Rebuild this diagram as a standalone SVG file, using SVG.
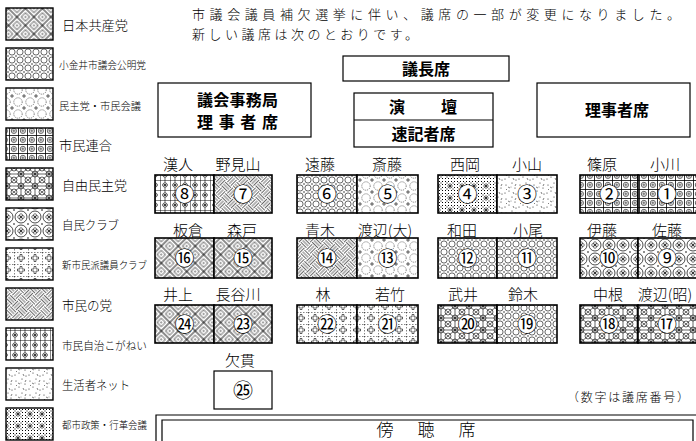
<svg xmlns="http://www.w3.org/2000/svg" width="696" height="441" viewBox="0 0 696 441">
<style>
text{font-family:"Noto Sans CJK JP","Noto Sans CJK SC",sans-serif;fill:#000}
.m{font-weight:300}
.g{font-weight:700;font-size:16px}
.nm{font-size:15px;font-weight:300;text-anchor:middle}
.num{font-size:20px;text-anchor:middle}
.lg{font-weight:300}
.sw{stroke:#000;stroke-width:1.4}
.box{fill:#fff;stroke:#000;stroke-width:1.2}
.seat{stroke:#000;stroke-width:1.6}
.wc{fill:#fff}
</style>
<defs>
<pattern id="p1" width="12" height="12" patternUnits="userSpaceOnUse" patternTransform="rotate(45)">
<rect width="12" height="12" fill="#fff" stroke="#000" stroke-width="0.9"/>
<rect x="3" y="3" width="6" height="6" fill="none" stroke="#000" stroke-width="0.55"/>
<rect x="5.4" y="5.4" width="1.2" height="1.2" fill="#000"/>
</pattern>
<pattern id="p2" width="8" height="8" patternUnits="userSpaceOnUse">
<rect width="8" height="8" fill="#fff"/>
<circle cx="4" cy="4" r="3.1" fill="none" stroke="#000" stroke-width="0.6"/>
<circle cx="0" cy="0" r="0.7"/><circle cx="8" cy="0" r="0.7"/><circle cx="0" cy="8" r="0.7"/><circle cx="8" cy="8" r="0.7"/>
</pattern>
<pattern id="p3" width="12" height="12" patternUnits="userSpaceOnUse">
<rect width="12" height="12" fill="#fff"/>
<circle cx="6" cy="6" r="4.2" fill="none" stroke="#000" stroke-width="0.5" stroke-dasharray="1.2 1"/>
<path d="M0 0H2M0 0V2M10 0H12M12 0V2M0 12H2M0 10V12M10 12H12M12 10V12" stroke="#000" stroke-width="0.6"/>
</pattern>
<pattern id="p4" width="9" height="9" patternUnits="userSpaceOnUse">
<rect width="9" height="9" fill="#fff"/>
<path d="M0 0.4H9M0.4 0V9" stroke="#000" stroke-width="0.9"/>
<circle cx="4.9" cy="4.9" r="2.6" fill="none" stroke="#000" stroke-width="0.6"/>
<path d="M4.9 3.2V6.6M3.2 4.9H6.6" stroke="#000" stroke-width="0.5"/>
</pattern>
<pattern id="p5" width="14" height="12" patternUnits="userSpaceOnUse">
<rect width="14" height="12" fill="#fff"/>
<path d="M0 0L14 12M14 0L0 12M7 0V12M0 6H14" stroke="#000" stroke-width="0.6"/>
<circle cx="7" cy="6" r="3" fill="none" stroke="#000" stroke-width="0.6"/>
<circle cx="0" cy="0" r="3" fill="none" stroke="#000" stroke-width="0.6"/><circle cx="14" cy="0" r="3" fill="none" stroke="#000" stroke-width="0.6"/><circle cx="0" cy="12" r="3" fill="none" stroke="#000" stroke-width="0.6"/><circle cx="14" cy="12" r="3" fill="none" stroke="#000" stroke-width="0.6"/>
</pattern>
<pattern id="p6" width="14" height="14" patternUnits="userSpaceOnUse">
<rect width="14" height="14" fill="#fff"/>
<circle cx="7" cy="7" r="6" fill="none" stroke="#000" stroke-width="0.7"/>
<g fill="none" stroke="#000" stroke-width="0.5"><circle cx="7" cy="5.2" r="1.5"/><circle cx="8.8" cy="7" r="1.5"/><circle cx="7" cy="8.8" r="1.5"/><circle cx="5.2" cy="7" r="1.5"/></g>
<circle cx="0" cy="0" r="0.8"/><circle cx="14" cy="0" r="0.8"/><circle cx="0" cy="14" r="0.8"/><circle cx="14" cy="14" r="0.8"/>
</pattern>
<pattern id="p7" width="14" height="12" patternUnits="userSpaceOnUse">
<rect width="14" height="12" fill="#fff"/>
<path d="M0 0.3H14M0.3 0V12" stroke="#000" stroke-width="0.6" stroke-dasharray="1.5 1.5"/>
<path d="M6 2.5h2v2.5h2.5v2h-2.5v2.5h-2v-2.5h-2.5v-2h2.5z" fill="none" stroke="#000" stroke-width="0.6"/>
</pattern>
<pattern id="p8" width="16" height="16" patternUnits="userSpaceOnUse" patternTransform="rotate(45)">
<rect width="16" height="16" fill="#fff"/>
<path d="M0 1.5H8M0 4H8M0 6.5H8M9.5 0V8M12 0V8M14.5 0V8M1.5 8V16M4 8V16M6.5 8V16M8 9.5H16M8 12H16M8 14.5H16" stroke="#000" stroke-width="0.6"/>
</pattern>
<pattern id="p9" width="10" height="10" patternUnits="userSpaceOnUse">
<rect width="10" height="10" fill="#fff"/>
<path d="M0 0.3H10M0.3 0V10M5 0V2M5 8V10" stroke="#000" stroke-width="0.6"/>
<g fill="none" stroke="#000" stroke-width="0.5"><circle cx="5" cy="3.7" r="1.3"/><circle cx="6.3" cy="5" r="1.3"/><circle cx="5" cy="6.3" r="1.3"/><circle cx="3.7" cy="5" r="1.3"/></g>
</pattern>
<pattern id="p10" width="14" height="14" patternUnits="userSpaceOnUse">
<rect width="14" height="14" fill="#fff"/>
<g fill="#000"><circle cx="2" cy="3" r="0.5"/><circle cx="8" cy="1" r="0.5"/><circle cx="11" cy="6" r="0.5"/><circle cx="5" cy="9" r="0.5"/><circle cx="12" cy="12" r="0.5"/><circle cx="1" cy="11" r="0.5"/><circle cx="7" cy="5" r="0.4"/></g>
<path d="M4 5l2 1M9 10l1 2M12 2l-1 2M2 7l1 1" stroke="#000" stroke-width="0.5"/>
</pattern>
<pattern id="p11" width="12" height="12" patternUnits="userSpaceOnUse">
<rect width="12" height="12" fill="#fff"/>
<path d="M1 1h1v1h-1zM4 1h1v1h-1zM7 1h1v1h-1zM10 1h1v1h-1zM1 4h1v1h-1zM10 4h1v1h-1zM1 7h1v1h-1zM10 7h1v1h-1zM1 10h1v1h-1zM4 10h1v1h-1zM7 10h1v1h-1zM10 10h1v1h-1zM2.5 2.5h1v1h-1zM8.5 2.5h1v1h-1zM2.5 8.5h1v1h-1zM8.5 8.5h1v1h-1z" fill="#000"/>
<path d="M6 3V9M3 6H9M4 4L8 8M8 4L4 8" stroke="#000" stroke-width="0.6"/>
</pattern>
</defs>
<rect width="696" height="441" fill="#fff"/>

<g id="legend">
<g id="lg1"><rect class="sw" x="6" y="8" width="47" height="32" fill="url(#p1)"/><text class="lg" x="62" y="30" font-size="13" textLength="66" lengthAdjust="spacingAndGlyphs">日本共産党</text></g>
<g id="lg2"><rect class="sw" x="6" y="48" width="47" height="32" fill="url(#p2)"/><text class="lg" x="59" y="69" font-size="10" textLength="87" lengthAdjust="spacingAndGlyphs">小金井市議会公明党</text></g>
<g id="lg3"><rect class="sw" x="6" y="88" width="47" height="32" fill="url(#p3)"/><text class="lg" x="59" y="110" font-size="10.5" textLength="82" lengthAdjust="spacingAndGlyphs">民主党・市民会議</text></g>
<g id="lg4"><rect class="sw" x="6" y="128" width="47" height="32" fill="url(#p4)"/><text class="lg" x="59" y="150" font-size="13" textLength="53" lengthAdjust="spacingAndGlyphs">市民連合</text></g>
<g id="lg5"><rect class="sw" x="6" y="168" width="47" height="32" fill="url(#p5)"/><text class="lg" x="62" y="190" font-size="13" textLength="65" lengthAdjust="spacingAndGlyphs">自由民主党</text></g>
<g id="lg6"><rect class="sw" x="6" y="208" width="47" height="32" fill="url(#p6)"/><text class="lg" x="62" y="230" font-size="12.5" textLength="57" lengthAdjust="spacingAndGlyphs">自民クラブ</text></g>
<g id="lg7"><rect class="sw" x="6" y="248" width="47" height="32" fill="url(#p7)"/><text class="lg" x="62" y="269" font-size="10" textLength="85" lengthAdjust="spacingAndGlyphs">新市民派議員クラブ</text></g>
<g id="lg8"><rect class="sw" x="6" y="288" width="47" height="32" fill="url(#p8)"/><text class="lg" x="62" y="310" font-size="13" textLength="50" lengthAdjust="spacingAndGlyphs">市民の党</text></g>
<g id="lg9"><rect class="sw" x="6" y="328" width="47" height="32" fill="url(#p9)"/><text class="lg" x="62" y="350" font-size="11" textLength="85" lengthAdjust="spacingAndGlyphs">市民自治こがねい</text></g>
<g id="lg10"><rect class="sw" x="6" y="368" width="47" height="32" fill="url(#p10)"/><text class="lg" x="62" y="390" font-size="12" textLength="68" lengthAdjust="spacingAndGlyphs">生活者ネット</text></g>
<g id="lg11"><rect class="sw" x="6" y="408" width="47" height="32" fill="url(#p11)"/><text class="lg" x="62" y="429" font-size="10" textLength="85" lengthAdjust="spacingAndGlyphs">都市政策・行革会議</text></g>
</g>

<g id="notice">
<text class="m" x="192" y="19" font-size="13" textLength="488" lengthAdjust="spacing">市議会議員補欠選挙に伴い、議席の一部が変更になりました。</text>
<text class="m" x="192" y="39" font-size="13" textLength="226" lengthAdjust="spacing">新しい議席は次のとおりです。</text>
</g>

<g id="gichoseki"><rect class="box" x="343" y="56" width="166" height="25"/><text class="g" x="426" y="74.5" text-anchor="middle">議長席</text></g>
<g id="jimukyoku"><rect class="box" x="158" y="83" width="153" height="54"/><text class="g" x="197" y="106" textLength="81" lengthAdjust="spacing">議会事務局</text><text class="g" x="197" y="128" textLength="81" lengthAdjust="spacing">理事者席</text></g>
<g id="endan"><rect class="box" x="354" y="93" width="139" height="54"/><line x1="354" y1="120" x2="493" y2="120" stroke="#000" stroke-width="1.2"/><text class="g" x="389" y="112.5" textLength="68" lengthAdjust="spacing">演壇</text><text class="g" x="423.5" y="139.5" text-anchor="middle">速記者席</text></g>
<g id="rijisha"><rect class="box" x="537" y="83" width="153" height="54"/><text class="g" x="617" y="116" text-anchor="middle">理事者席</text></g>

<g id="seats">
<g id="s8-7">
<rect class="seat" x="155" y="175" width="59" height="38" fill="url(#p9)"/><rect class="seat" x="214" y="175" width="58" height="38" fill="url(#p8)"/>
<circle class="wc" cx="184.5" cy="194" r="9"/><text class="num" x="184.5" y="201.5">⑧</text><circle class="wc" cx="243" cy="194" r="9"/><text class="num" x="243" y="201.5">⑦</text>
<text class="nm" x="178" y="170">漢人</text><text class="nm" x="238" y="170">野見山</text>
</g>
<g id="s6-5">
<rect class="seat" x="297" y="175" width="60" height="38" fill="url(#p2)"/><rect class="seat" x="357" y="175" width="61" height="38" fill="url(#p3)"/>
<circle class="wc" cx="327" cy="194" r="9"/><text class="num" x="327" y="201.5">⑥</text><circle class="wc" cx="387.5" cy="194" r="9"/><text class="num" x="387.5" y="201.5">⑤</text>
<text class="nm" x="320" y="170">遠藤</text><text class="nm" x="387" y="170">斎藤</text>
</g>
<g id="s4-3">
<rect class="seat" x="438" y="175" width="59" height="38" fill="url(#p11)"/><rect class="seat" x="497" y="175" width="60" height="38" fill="url(#p10)"/>
<circle class="wc" cx="467.5" cy="194" r="9"/><text class="num" x="467.5" y="201.5">④</text><circle class="wc" cx="527" cy="194" r="9"/><text class="num" x="527" y="201.5">③</text>
<text class="nm" x="465" y="170">西岡</text><text class="nm" x="527" y="170">小山</text>
</g>
<g id="s2-1">
<rect class="seat" x="580" y="175" width="58" height="38" fill="url(#p4)"/><rect class="seat" x="638" y="175" width="59" height="38" fill="url(#p4)"/>
<circle class="wc" cx="609" cy="194" r="9"/><text class="num" x="609" y="201.5">②</text><circle class="wc" cx="667" cy="194" r="9"/><text class="num" x="667" y="201.5">①</text>
<text class="nm" x="602" y="170">篠原</text><text class="nm" x="665" y="170">小川</text>
</g>

<g id="s16-15">
<rect class="seat" x="155" y="238" width="59" height="40" fill="url(#p1)"/><rect class="seat" x="214" y="238" width="58" height="40" fill="url(#p1)"/>
<circle class="wc" cx="184.5" cy="258" r="9"/><text class="num" x="184.5" y="265.5">⑯</text><circle class="wc" cx="243" cy="258" r="9"/><text class="num" x="243" y="265.5">⑮</text>
<text class="nm" x="188" y="236">板倉</text><text class="nm" x="242" y="236">森戸</text>
</g>
<g id="s14-13">
<rect class="seat" x="297" y="238" width="60" height="40" fill="url(#p8)"/><rect class="seat" x="357" y="238" width="61" height="40" fill="url(#p3)"/>
<circle class="wc" cx="327" cy="258" r="9"/><text class="num" x="327" y="265.5">⑭</text><circle class="wc" cx="387.5" cy="258" r="9"/><text class="num" x="387.5" y="265.5">⑬</text>
<text class="nm" x="320" y="236">青木</text><text class="nm" x="385" y="236">渡辺(大)</text>
</g>
<g id="s12-11">
<rect class="seat" x="438" y="238" width="59" height="40" fill="url(#p2)"/><rect class="seat" x="497" y="238" width="60" height="40" fill="url(#p2)"/>
<circle class="wc" cx="467.5" cy="258" r="9"/><text class="num" x="467.5" y="265.5">⑫</text><circle class="wc" cx="527" cy="258" r="9"/><text class="num" x="527" y="265.5">⑪</text>
<text class="nm" x="462" y="236">和田</text><text class="nm" x="528" y="236">小尾</text>
</g>
<g id="s10-9">
<rect class="seat" x="580" y="238" width="58" height="40" fill="url(#p6)"/><rect class="seat" x="638" y="238" width="59" height="40" fill="url(#p6)"/>
<circle class="wc" cx="609" cy="258" r="9"/><text class="num" x="609" y="265.5">⑩</text><circle class="wc" cx="667" cy="258" r="9"/><text class="num" x="667" y="265.5">⑨</text>
<text class="nm" x="602" y="236">伊藤</text><text class="nm" x="667" y="236">佐藤</text>
</g>

<g id="s24-23">
<rect class="seat" x="155" y="305" width="59" height="38" fill="url(#p1)"/><rect class="seat" x="214" y="305" width="58" height="38" fill="url(#p1)"/>
<circle class="wc" cx="184.5" cy="324" r="9"/><text class="num" x="184.5" y="331.5">㉔</text><circle class="wc" cx="243" cy="324" r="9"/><text class="num" x="243" y="331.5">㉓</text>
<text class="nm" x="178" y="300">井上</text><text class="nm" x="238" y="300">長谷川</text>
</g>
<g id="s22-21">
<rect class="seat" x="297" y="305" width="60" height="38" fill="url(#p7)"/><rect class="seat" x="357" y="305" width="61" height="38" fill="url(#p7)"/>
<circle class="wc" cx="327" cy="324" r="9"/><text class="num" x="327" y="331.5">㉒</text><circle class="wc" cx="387.5" cy="324" r="9"/><text class="num" x="387.5" y="331.5">㉑</text>
<text class="nm" x="323" y="300">林</text><text class="nm" x="390" y="300">若竹</text>
</g>
<g id="s20-19">
<rect class="seat" x="438" y="305" width="59" height="38" fill="url(#p5)"/><rect class="seat" x="497" y="305" width="60" height="38" fill="url(#p2)"/>
<circle class="wc" cx="467.5" cy="324" r="9"/><text class="num" x="467.5" y="331.5">⑳</text><circle class="wc" cx="527" cy="324" r="9"/><text class="num" x="527" y="331.5">⑲</text>
<text class="nm" x="463" y="300">武井</text><text class="nm" x="523" y="300">鈴木</text>
</g>
<g id="s18-17">
<rect class="seat" x="580" y="305" width="58" height="38" fill="url(#p5)"/><rect class="seat" x="638" y="305" width="59" height="38" fill="url(#p5)"/>
<circle class="wc" cx="609" cy="324" r="9"/><text class="num" x="609" y="331.5">⑱</text><circle class="wc" cx="667" cy="324" r="9"/><text class="num" x="667" y="331.5">⑰</text>
<text class="nm" x="608" y="300">中根</text><text class="nm" x="665" y="300">渡辺(昭)</text>
</g>
<g id="s25">
<rect class="box" x="214" y="371" width="58" height="38"/>
<text class="num" x="243" y="397.5">㉕</text>
<text class="nm" x="240" y="366">欠貫</text>
</g>
</g>

<text class="m" x="567" y="402" font-size="12" textLength="122" lengthAdjust="spacing">（数字は議席番号）</text>

<g id="bochoseki">
<path d="M156 441V415H696" fill="none" stroke="#000" stroke-width="1.2"/>
<path d="M162 441V420H693V441" fill="none" stroke="#000" stroke-width="1.2"/>
<text class="m" x="385" y="436" font-size="17" text-anchor="middle">傍</text>
<text class="m" x="426" y="436" font-size="17" text-anchor="middle">聴</text>
<text class="m" x="467" y="436" font-size="17" text-anchor="middle">席</text>
</g>
<g id="connectors"/>
</svg>
